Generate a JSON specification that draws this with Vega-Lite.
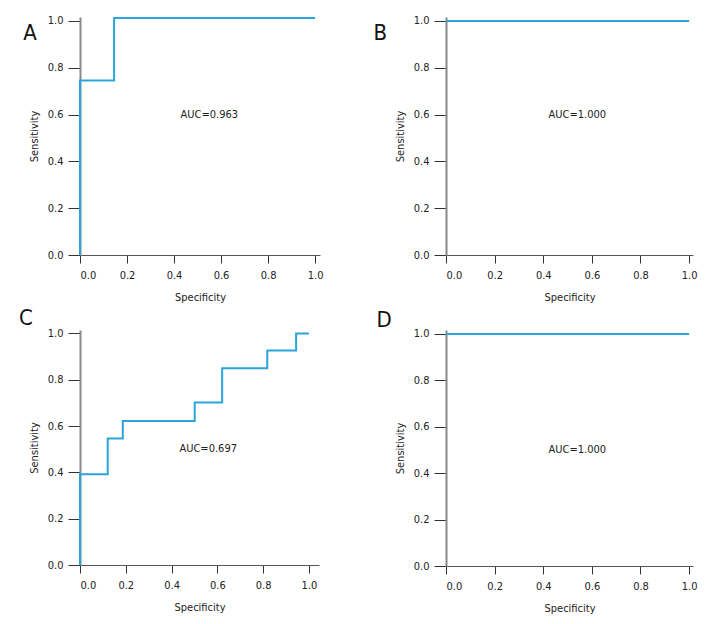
{
  "$schema": "https://vega.github.io/schema/vega-lite/v6.json",
  "background": "white",
  "padding": {"left": 19, "top": 13, "right": 5, "bottom": 5},
  "config": {
    "view": {"stroke": null},
    "font": "DejaVu Sans Condensed, Liberation Sans Narrow, sans-serif",
    "scale": {"nice": false, "zero": true},
    "axis": {
      "labelFont": "DejaVu Sans Condensed, Liberation Sans Narrow, sans-serif",
      "titleFont": "DejaVu Sans Condensed, Liberation Sans Narrow, sans-serif",
      "labelFontSize": 11,
      "titleFontSize": 11,
      "titleFontWeight": "normal",
      "labelColor": "#222222",
      "titleColor": "#222222",
      "tickColor": "#333333",
      "tickWidth": 1,
      "grid": false,
      "domainColor": "#555555",
      "values": [0, 0.2, 0.4, 0.6, 0.8, 1.0],
      "format": ".1f"
    },
    "axisX": {"tickSize": 8, "labelPadding": 6, "titlePadding": 11, "domainWidth": 1},
    "axisY": {"tickSize": 12, "labelPadding": 5, "titlePadding": 8, "domainColor": "#888888", "domainWidth": 2}
  },
  "datasets": {
    "A": [
      {"i": 1, "spec": 0, "sens": 0},
      {"i": 2, "spec": 0, "sens": 0.746},
      {"i": 3, "spec": 0.145, "sens": 0.746},
      {"i": 4, "spec": 0.145, "sens": 1.013},
      {"i": 5, "spec": 1.0, "sens": 1.013}
    ],
    "B": [
      {"i": 1, "spec": 0, "sens": 1.0},
      {"i": 2, "spec": 1.0, "sens": 1.0}
    ],
    "C": [
      {"i": 1, "spec": 0, "sens": 0},
      {"i": 2, "spec": 0, "sens": 0.392},
      {"i": 3, "spec": 0.121, "sens": 0.392},
      {"i": 4, "spec": 0.121, "sens": 0.546},
      {"i": 5, "spec": 0.187, "sens": 0.546},
      {"i": 6, "spec": 0.187, "sens": 0.622},
      {"i": 7, "spec": 0.501, "sens": 0.622},
      {"i": 8, "spec": 0.501, "sens": 0.702},
      {"i": 9, "spec": 0.621, "sens": 0.702},
      {"i": 10, "spec": 0.621, "sens": 0.85},
      {"i": 11, "spec": 0.818, "sens": 0.85},
      {"i": 12, "spec": 0.818, "sens": 0.926},
      {"i": 13, "spec": 0.944, "sens": 0.926},
      {"i": 14, "spec": 0.944, "sens": 1.0},
      {"i": 15, "spec": 1.0, "sens": 1.0}
    ],
    "D": [
      {"i": 1, "spec": 0, "sens": 1.0},
      {"i": 2, "spec": 1.0, "sens": 1.0}
    ],
    "one": [{}]
  },
  "columns": 2,
  "bounds": "flush",
  "align": "each",
  "spacing": {"column": 126, "row": 75},
  "concat": [
    {
      "width": 240,
      "height": 238,
      "layer": [
        {
          "data": {"name": "A"},
          "mark": {"type": "line", "color": "#2aa5dc", "strokeWidth": 2},
          "encoding": {
            "x": {"field": "spec", "type": "quantitative", "scale": {"domain": [0, 1.021], "nice": false}, "axis": {"title": "Specificity"}},
            "y": {"field": "sens", "type": "quantitative", "scale": {"domain": [0, 1.017], "nice": false}, "axis": {"title": "Sensitivity"}},
            "order": {"field": "i"}
          }
        },
        {
          "data": {"name": "one"},
          "mark": {"type": "text", "fontSize": 11, "color": "#222222"},
          "encoding": {"x": {"datum": 0.55}, "y": {"datum": 0.6}, "text": {"value": "AUC=0.963"}}
        },
        {
          "data": {"name": "one"},
          "mark": {"type": "text", "fontSize": 22, "color": "#111111"},
          "encoding": {"x": {"datum": -0.213}, "y": {"datum": 0.95}, "text": {"value": "A"}}
        }
      ]
    },
    {
      "width": 247,
      "height": 238,
      "layer": [
        {
          "data": {"name": "B"},
          "mark": {"type": "line", "color": "#2aa5dc", "strokeWidth": 2},
          "encoding": {
            "x": {"field": "spec", "type": "quantitative", "scale": {"domain": [0, 1.016], "nice": false}, "axis": {"title": "Specificity"}},
            "y": {"field": "sens", "type": "quantitative", "scale": {"domain": [0, 1.017], "nice": false}, "axis": {"title": "Sensitivity"}},
            "order": {"field": "i"}
          }
        },
        {
          "data": {"name": "one"},
          "mark": {"type": "text", "fontSize": 11, "color": "#222222"},
          "encoding": {"x": {"datum": 0.54}, "y": {"datum": 0.6}, "text": {"value": "AUC=1.000"}}
        },
        {
          "data": {"name": "one"},
          "mark": {"type": "text", "fontSize": 22, "color": "#111111"},
          "encoding": {"x": {"datum": -0.27}, "y": {"datum": 0.95}, "text": {"value": "B"}}
        }
      ]
    },
    {
      "width": 239,
      "height": 235,
      "layer": [
        {
          "data": {"name": "C"},
          "mark": {"type": "line", "color": "#2aa5dc", "strokeWidth": 2},
          "encoding": {
            "x": {"field": "spec", "type": "quantitative", "scale": {"domain": [0, 1.044], "nice": false}, "axis": {"title": "Specificity"}},
            "y": {"field": "sens", "type": "quantitative", "scale": {"domain": [0, 1.015], "nice": false}, "axis": {"title": "Sensitivity"}},
            "order": {"field": "i"}
          }
        },
        {
          "data": {"name": "one"},
          "mark": {"type": "text", "fontSize": 11, "color": "#222222"},
          "encoding": {"x": {"datum": 0.56}, "y": {"datum": 0.5}, "text": {"value": "AUC=0.697"}}
        },
        {
          "data": {"name": "one"},
          "mark": {"type": "text", "fontSize": 22, "color": "#111111"},
          "encoding": {"x": {"datum": -0.236}, "y": {"datum": 1.066}, "text": {"value": "C"}}
        }
      ]
    },
    {
      "width": 247,
      "height": 236,
      "layer": [
        {
          "data": {"name": "D"},
          "mark": {"type": "line", "color": "#2aa5dc", "strokeWidth": 2},
          "encoding": {
            "x": {"field": "spec", "type": "quantitative", "scale": {"domain": [0, 1.016], "nice": false}, "axis": {"title": "Specificity"}},
            "y": {"field": "sens", "type": "quantitative", "scale": {"domain": [0, 1.017], "nice": false}, "axis": {"title": "Sensitivity"}},
            "order": {"field": "i"}
          }
        },
        {
          "data": {"name": "one"},
          "mark": {"type": "text", "fontSize": 11, "color": "#222222"},
          "encoding": {"x": {"datum": 0.54}, "y": {"datum": 0.5}, "text": {"value": "AUC=1.000"}}
        },
        {
          "data": {"name": "one"},
          "mark": {"type": "text", "fontSize": 22, "color": "#111111"},
          "encoding": {"x": {"datum": -0.255}, "y": {"datum": 1.061}, "text": {"value": "D"}}
        }
      ]
    }
  ]
}
